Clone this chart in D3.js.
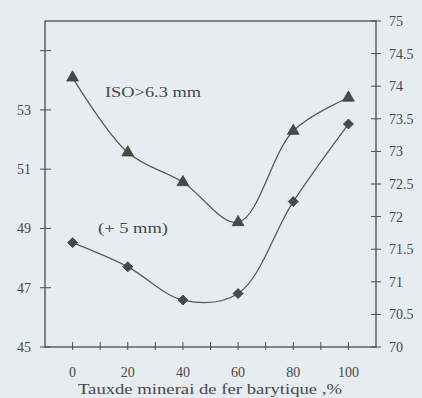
<!DOCTYPE html>
<html>
<head>
<meta charset="utf-8">
<script src="https://cdn.jsdelivr.net/npm/d3@7"></script>
<style>
  html, body { margin: 0; padding: 0; background: #e7ecf1; }
  svg { display: block; }
  text { font-family: "Liberation Serif", "Times New Roman", "DejaVu Serif", serif; fill: #474747; }
</style>
</head>
<body>
<svg id="chart" width="422" height="398"></svg>
<script>
// data
const rates = [0, 20, 40, 60, 80, 100];
const isoValues = [54.09, 51.56, 50.56, 49.21, 52.29, 53.41];   // triangles, left axis
const plus5Values = [71.60, 71.23, 70.72, 70.82, 72.23, 73.42]; // diamonds, right axis
const leftTicks = [45, 47, 49, 51, 53, 55];
const leftLabels = ['45', '47', '49', '51', '53', ''];
const rightTicks = [70, 70.5, 71, 71.5, 72, 72.5, 73, 73.5, 74, 74.5, 75];
const xTicks = [0, 10, 20, 30, 40, 50, 60, 70, 80, 90, 100];
const xLabels = [0, 20, 40, 60, 80, 100];
const xTitle = 'Tauxde minerai de fer barytique ,%';

const ink = '#4d4d4d';
const box = { left: 45, right: 376, top: 21, bottom: 347 };

const svg = d3.select('#chart');

const x = d3.scaleLinear().domain([-10, 110]).range([box.left, box.right]);
const yLeft = d3.scaleLinear().domain([45, 56]).range([box.bottom, box.top]);
const yRight = d3.scaleLinear().domain([70, 75]).range([box.bottom, box.top]);

// frame
svg.append('rect')
    .attr('x', box.left).attr('y', box.top)
    .attr('width', box.right - box.left).attr('height', box.bottom - box.top)
    .attr('fill', 'none').attr('stroke', ink).attr('stroke-width', 1.3);

// left ticks
const lt = svg.append('g');
lt.selectAll('line').data(leftTicks).join('line')
    .attr('x1', box.left - 5).attr('x2', box.left + 6)
    .attr('y1', d => yLeft(d)).attr('y2', d => yLeft(d))
    .attr('stroke', ink);
lt.selectAll('text').data(leftTicks).join('text')
    .attr('x', 31).attr('y', d => yLeft(d) + 5)
    .attr('text-anchor', 'end').attr('font-size', 14)
    .text((d, i) => leftLabels[i]);

// right ticks
const rt = svg.append('g');
rt.selectAll('line').data(rightTicks).join('line')
    .attr('x1', box.right - 5).attr('x2', box.right + 5)
    .attr('y1', d => yRight(d)).attr('y2', d => yRight(d))
    .attr('stroke', ink);
rt.selectAll('text').data(rightTicks).join('text')
    .attr('x', 389).attr('y', d => yRight(d) + 5)
    .attr('font-size', 14)
    .text(d => d);

// bottom ticks
const bt = svg.append('g');
bt.selectAll('line').data(xTicks).join('line')
    .attr('x1', d => x(d)).attr('x2', d => x(d))
    .attr('y1', box.bottom - 5).attr('y2', box.bottom + 3)
    .attr('stroke', ink);
bt.selectAll('text').data(xLabels).join('text')
    .attr('x', d => x(d)).attr('y', 377)
    .attr('text-anchor', 'middle').attr('font-size', 14)
    .text(d => d);

svg.append('text')
    .attr('x', 210).attr('y', 394)
    .attr('text-anchor', 'middle').attr('font-size', 14)
    .attr('textLength', 264).attr('lengthAdjust', 'spacingAndGlyphs')
    .text(xTitle);

// curves
const isoLine = d3.line()
    .x((d, i) => x(rates[i]))
    .y(d => yLeft(d))
    .curve(d3.curveCatmullRom.alpha(0.5));
const plusLine = d3.line()
    .x((d, i) => x(rates[i]))
    .y(d => yRight(d))
    .curve(d3.curveCatmullRom.alpha(0.5));

svg.append('path').datum(isoValues)
    .attr('d', isoLine).attr('fill', 'none')
    .attr('stroke', '#5a5a5a').attr('stroke-width', 1.3);
svg.append('path').datum(plus5Values)
    .attr('d', plusLine).attr('fill', 'none')
    .attr('stroke', '#5a5a5a').attr('stroke-width', 1.3);

const markerFill = '#464c45';
svg.append('g').selectAll('path').data(isoValues).join('path')
    .attr('d', d3.symbol(d3.symbolTriangle, 60))
    .attr('transform', (d, i) => `translate(${x(rates[i])},${yLeft(d)})`)
    .attr('fill', markerFill).attr('stroke', '#3c403b').attr('stroke-width', 0.8);

svg.append('g').selectAll('path').data(plus5Values).join('path')
    .attr('d', d3.symbol(d3.symbolSquare, 50))
    .attr('transform', (d, i) => `translate(${x(rates[i])},${yRight(d)}) rotate(45)`)
    .attr('fill', markerFill).attr('stroke', '#3c403b').attr('stroke-width', 0.8)
    .attr('stroke-linejoin', 'round');

// series labels
svg.append('text')
    .attr('x', 105).attr('y', 97)
    .attr('font-size', 14)
    .attr('textLength', 96).attr('lengthAdjust', 'spacingAndGlyphs')
    .text('ISO>6.3 mm');
svg.append('text')
    .attr('x', 98).attr('y', 233)
    .attr('font-size', 14)
    .attr('textLength', 70).attr('lengthAdjust', 'spacingAndGlyphs')
    .text('(+ 5 mm)');
</script>
</body>
</html>
